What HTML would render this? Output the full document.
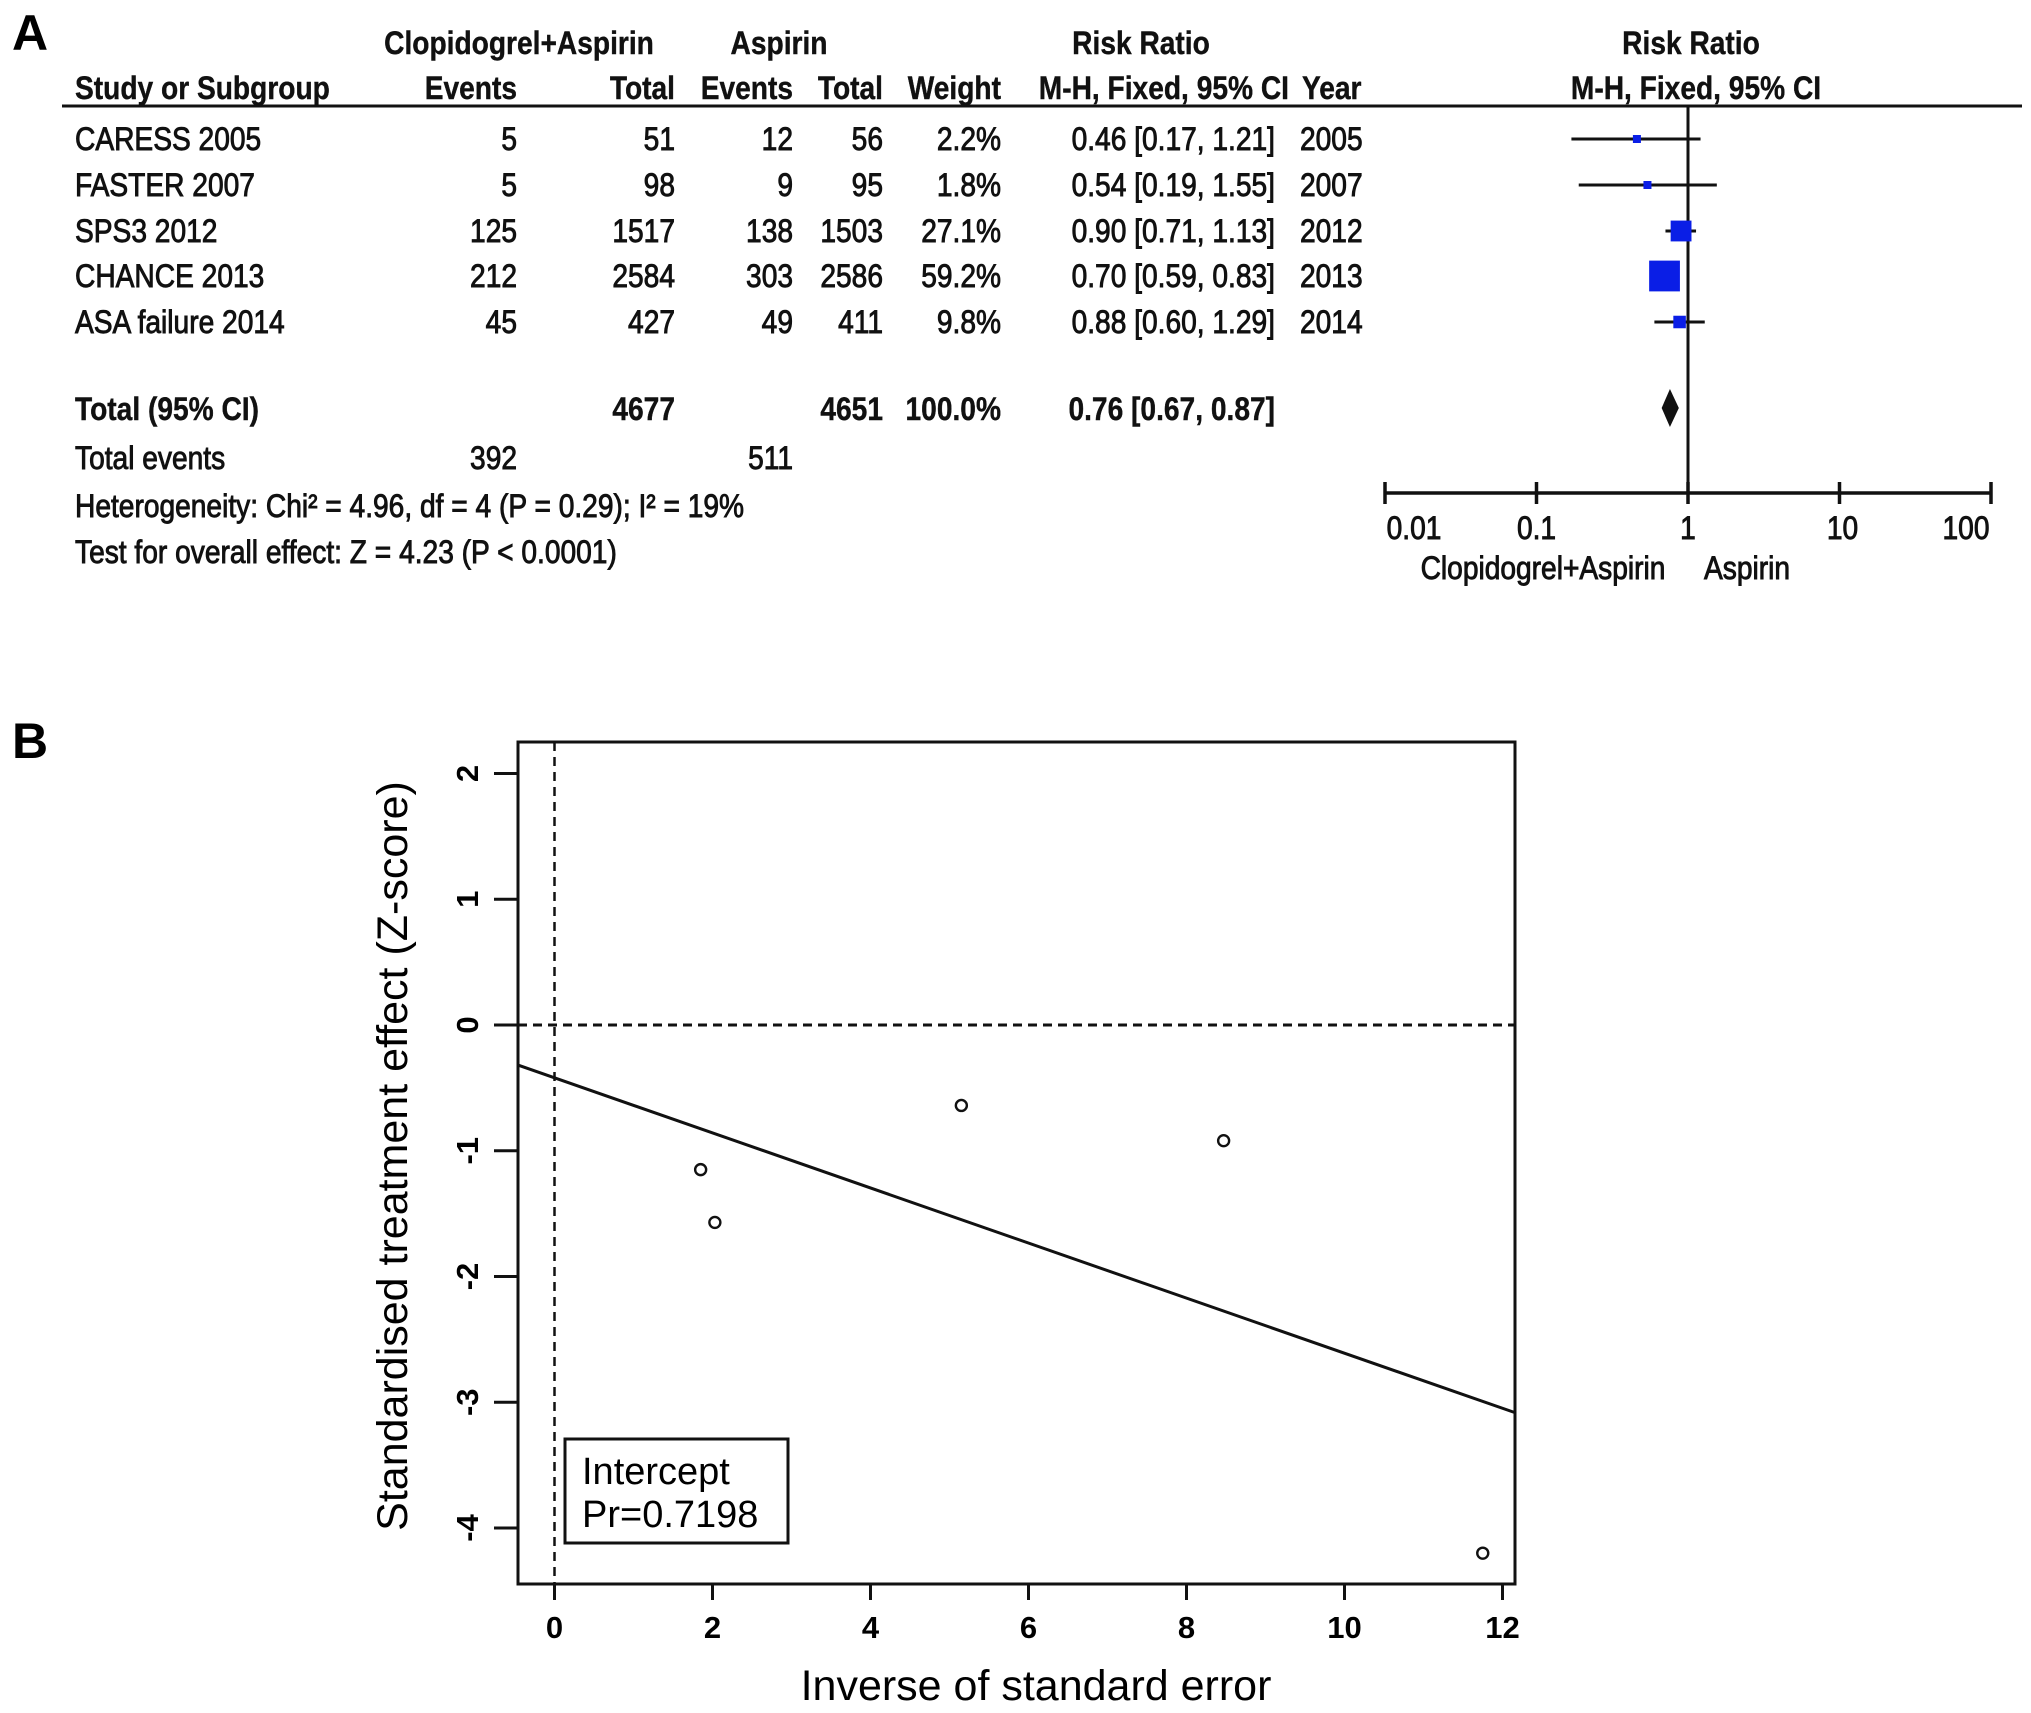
<!DOCTYPE html>
<html><head><meta charset="utf-8"><style>
html,body{margin:0;padding:0;background:#fff;}
svg{display:block;}
.t{font-family:"Liberation Sans",sans-serif;font-size:32px;fill:#111;stroke:#111;stroke-width:0.9;}
.b{font-weight:bold;stroke-width:0.4;}
.p{font-family:"Liberation Sans",sans-serif;}
</style></head><body>
<svg id="fig" width="2031" height="1713" viewBox="0 0 2031 1713" xmlns="http://www.w3.org/2000/svg">
<text class="p" font-weight="bold" x="12" y="50" font-size="50">A</text>
<text class="p" font-weight="bold" x="12" y="758" font-size="50">B</text>
<g id="tableA"></g>
<g id="forest"></g>
<g id="funnel"></g>
</svg>
<script>
// ---- Panel A data ----
const studies = ["CARESS 2005","FASTER 2007","SPS3 2012","CHANCE 2013","ASA failure 2014"];
const ev1 = ["5","5","125","212","45"];
const tot1 = ["51","98","1517","2584","427"];
const ev2 = ["12","9","138","303","49"];
const tot2 = ["56","95","1503","2586","411"];
const weights = [2.2,1.8,27.1,59.2,9.8];
const rr = [0.46,0.54,0.90,0.70,0.88];
const lo = [0.17,0.19,0.71,0.59,0.60];
const hi = [1.21,1.55,1.13,0.83,1.29];
const years = ["2005","2007","2012","2013","2014"];
const totalRR = [0.76,0.67,0.87];
const rrTicks = [0.01,0.1,1,10,100];
const rrTickLabels = ["0.01","0.1","1","10","100"];
// ---- Panel B data ----
const precision = [1.85,2.03,5.15,8.47,11.75];
const zscore = [-1.15,-1.57,-0.64,-0.92,-4.20];
const regIntercept = -0.42;
const regSlope = -0.219;
const xTicksB = [0,2,4,6,8,10,12];
const yTicksB = [-4,-3,-2,-1,0,1,2];

const NS="http://www.w3.org/2000/svg";
const SX=0.88;
function mk(parent,tag,attrs,text){const e=document.createElementNS(NS,tag);for(const k in attrs)e.setAttribute(k,attrs[k]);if(text!==undefined)e.textContent=text;parent.appendChild(e);return e;}
function ntext(parent,x,y,s,anchor,bold){return mk(parent,'text',{x:0,y:0,transform:`translate(${x},${y}) scale(${SX},1)`,'text-anchor':anchor,class:'t'+(bold?' b':'')},s);}

// ---- Table ----
const T=document.getElementById('tableA');
function tx(x,y,s,anchor,bold,name){const e=ntext(T,x,y,s,anchor,bold);

return e;}
tx(519,54,"Clopidogrel+Aspirin","middle",true,"group-header-combo");
tx(779,54,"Aspirin","middle",true,"group-header-aspirin");
tx(1141,54,"Risk Ratio","middle",true,"rr-header");
tx(1691,54,"Risk Ratio","middle",true,"rr-plot-header");
tx(75,99,"Study or Subgroup","start",true,"col-study");
tx(517,99,"Events","end",true,"col-events-1");
tx(675,99,"Total","end",true,"col-total-1");
tx(793,99,"Events","end",true,"col-events-2");
tx(883,99,"Total","end",true,"col-total-2");
tx(1001,99,"Weight","end",true,"col-weight");
tx(1289,99,"M-H, Fixed, 95% CI","end",true,"col-rr");
tx(1302,99,"Year","start",true,"col-year");
tx(1696,99,"M-H, Fixed, 95% CI","middle",true,"col-rr-plot");
const hr=mk(T,'line',{x1:62,y1:106,x2:2022,y2:106,stroke:'#111','stroke-width':3});


const rowY=[150,196,242,287,333];
studies.forEach((s,i)=>{const y=rowY[i];
tx(75,y,s,"start",false,"study-name");
tx(517,y,ev1[i],"end",false,"events-1");
tx(675,y,tot1[i],"end",false,"total-1");
tx(793,y,ev2[i],"end",false,"events-2");
tx(883,y,tot2[i],"end",false,"total-2");
tx(1001,y,weights[i].toFixed(1)+"%","end",false,"weight");
tx(1275,y,rr[i].toFixed(2)+" ["+lo[i].toFixed(2)+", "+hi[i].toFixed(2)+"]","end",false,"rr-ci");
tx(1300,y,years[i],"start",false,"year");});
tx(75,420,"Total (95% CI)","start",true,"total-label");
tx(675,420,"4677","end",true,"total-1-sum");
tx(883,420,"4651","end",true,"total-2-sum");
tx(1001,420,"100.0%","end",true,"total-weight");
tx(1275,420,totalRR[0].toFixed(2)+" ["+totalRR[1].toFixed(2)+", "+totalRR[2].toFixed(2)+"]","end",true,"total-rr");
tx(75,469,"Total events","start",false,"total-events-label");
tx(517,469,"392","end",false,"total-events-1");
tx(793,469,"511","end",false,"total-events-2");
tx(75,517,"Heterogeneity: Chi² = 4.96, df = 4 (P = 0.29); I² = 19%","start",false,"heterogeneity");
tx(75,563,"Test for overall effect: Z = 4.23 (P < 0.0001)","start",false,"overall-effect");

// ---- Forest plot ----
const F=document.getElementById('forest');
const fx=v=>1385+(Math.log10(v)+2)*151.5;
const axY=493;
let e=mk(F,'line',{x1:fx(1),y1:106,x2:fx(1),y2:axY,stroke:'#111','stroke-width':3});


e=mk(F,'line',{x1:fx(0.01),y1:axY,x2:fx(100),y2:axY,stroke:'#111','stroke-width':3.5});


rrTicks.forEach((v,i)=>{
 e=mk(F,'line',{x1:fx(v),y1:axY-11,x2:fx(v),y2:axY+11,stroke:'#111','stroke-width':3.5});
 
 
 e=ntext(F,fx(v)+(i==0?29:i==4?-25:i==3?3:0),539,rrTickLabels[i],'middle',false);
 
 
});
e=ntext(F,1543,579,"Clopidogrel+Aspirin",'middle',false);


e=ntext(F,1747,579,"Aspirin",'middle',false);


studies.forEach((s,i)=>{const y=rowY[i]-11;
 e=mk(F,'line',{x1:fx(lo[i]),y1:y,x2:fx(hi[i]),y2:y,stroke:'#111','stroke-width':3});
 
 
 const sz=Math.max(8,4.0*Math.sqrt(weights[i]));
 e=mk(F,'rect',{x:fx(rr[i])-sz/2,y:y-sz/2,width:sz,height:sz,fill:'#0a1ee6'});
 
 
});
const dy=408;
e=mk(F,'polygon',{points:`${fx(totalRR[1])},${dy} ${fx(totalRR[0])},${dy-19} ${fx(totalRR[2])},${dy} ${fx(totalRR[0])},${dy+19}`,fill:'#111'});



// ---- Panel B ----
const G=document.getElementById('funnel');
const L=518,R=1515,TP=742,BT=1584;
const bx=v=>554.5+v*79, by=v=>1025-v*125.75;
e=mk(G,'rect',{x:L,y:TP,width:R-L,height:BT-TP,fill:'none',stroke:'#111','stroke-width':3});


e=mk(G,'line',{x1:bx(0),y1:TP,x2:bx(0),y2:BT,stroke:'#111','stroke-width':2.5,'stroke-dasharray':'9,6'});


e=mk(G,'line',{x1:L,y1:by(0),x2:R,y2:by(0),stroke:'#111','stroke-width':3,'stroke-dasharray':'9,6'});


const x0=(L-554.5)/79, x1=(R-554.5)/79;
e=mk(G,'line',{x1:L,y1:by(regIntercept+regSlope*x0),x2:R,y2:by(regIntercept+regSlope*x1),stroke:'#111','stroke-width':3});


precision.forEach((p,i)=>{
 e=mk(G,'circle',{cx:bx(p),cy:by(zscore[i]),r:5.5,fill:'none',stroke:'#111','stroke-width':2.4});
 
 
});
xTicksB.forEach(v=>{
 e=mk(G,'line',{x1:bx(v),y1:BT,x2:bx(v),y2:BT+16,stroke:'#111','stroke-width':3});
 
 
 e=mk(G,'text',{x:bx(v),y:1638,'text-anchor':'middle',class:'p','font-weight':'bold','font-size':31},String(v));
 
 
});
yTicksB.forEach(v=>{
 e=mk(G,'line',{x1:L-24,y1:by(v),x2:L,y2:by(v),stroke:'#111','stroke-width':3});
 
 
 e=mk(G,'text',{x:0,y:0,'text-anchor':'middle',class:'p','font-weight':'bold','font-size':31,transform:`translate(478,${by(v)}) rotate(-90)`},String(v));
 
 
});
e=mk(G,'text',{x:1036,y:1700,'text-anchor':'middle',class:'p','font-size':43},"Inverse of standard error");


e=mk(G,'text',{x:0,y:0,'text-anchor':'middle',class:'p','font-size':43,transform:'translate(407,1156) rotate(-90)'},"Standardised treatment effect (Z-score)");


e=mk(G,'rect',{x:565,y:1439,width:223,height:104,fill:'#fff',stroke:'#111','stroke-width':3});


e=mk(G,'text',{x:582,y:1484,class:'p','font-size':38},"Intercept");


e=mk(G,'text',{x:582,y:1527,class:'p','font-size':38},"Pr=0.7198");


</script>
</body></html>
